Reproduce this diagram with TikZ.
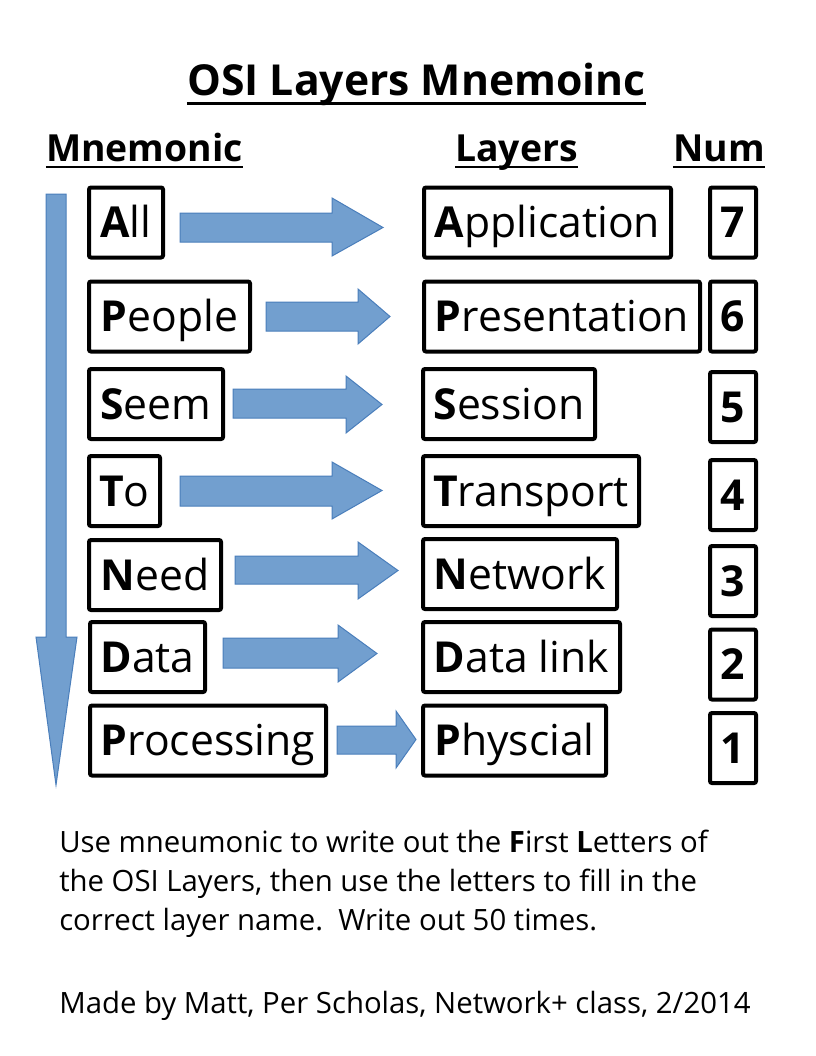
\documentclass[tikz,border=0pt]{standalone}
\usepackage{fontspec}
\setmainfont{Open Sans}
\usepackage{tikz}
\definecolor{cblue}{RGB}{114,159,207}
\definecolor{cedge}{RGB}{74,126,187}

\begin{document}
\begin{tikzpicture}[x=0.75pt,y=-0.75pt,
  word node/.style={rectangle,draw,line width=3pt,rounded corners=1.5pt,inner xsep=2pt,
    minimum height=52.5pt,text height=22.8pt,text depth=0pt,font=\fontsize{32}{38}\selectfont},
  num node/.style={word node,font=\fontsize{32}{38}\selectfont\bfseries,minimum width=34.5pt},
  head node/.style={anchor=base,inner sep=0pt,font=\fontsize{28}{34}\selectfont\bfseries},
  note node/.style={anchor=base west,inner sep=0pt,font=\fontsize{22}{25}\selectfont},
  blue arrow/.style={fill=cblue,draw=cedge,line width=0.75pt},
  uline/.style={line width=2.2pt}]
  \useasboundingbox (0,0) rectangle (816,1056);

  % headings
  \node[head node,font=\fontsize{32}{38}\selectfont\bfseries] (title) at (416.5,95) {OSI Layers Mnemoinc};
  \node[head node] (hm) at (144.5,161) {Mnemonic};
  \node[head node] (hl) at (516.5,161) {Layers};
  \node[head node] (hn) at (719,161) {Num};
  \draw[uline,line width=2.6pt] ([yshift=-6.5pt]title.base west) -- ([yshift=-6.5pt]title.base east);
  \draw[uline] ([yshift=-4.5pt]hm.base west) -- ([yshift=-4.5pt]hm.base east);
  \draw[uline] ([yshift=-4.5pt]hl.base west) -- ([yshift=-4.5pt]hl.base east);
  \draw[uline] ([yshift=-4.5pt]hn.base west) -- ([yshift=-4.5pt]hn.base east);

  % mnemonic words
  \node[word node,minimum width=55.5pt] (m7) at (126,222.5) {\textbf{A}ll};
  \node[word node,minimum width=120.75pt] (m6) at (169.5,316.5) {\textbf{P}eople};
  \node[word node,minimum width=100.5pt] (m5) at (156,404) {\textbf{S}eem};
  \node[word node,minimum width=53.25pt] (m4) at (124.5,491) {\textbf{T}o};
  \node[word node,minimum width=99pt] (m3) at (155,575) {\textbf{N}eed};
  \node[word node,minimum width=86.25pt] (m2) at (147.5,657) {\textbf{D}ata};
  \node[word node,minimum width=177pt] (m1) at (208,740.5) {\textbf{P}rocessing};

  % layers
  \node[word node,minimum width=185.25pt] (l7) at (547.5,222.5) {\textbf{A}pplication};
  \node[word node,minimum width=207pt] (l6) at (562,316.5) {\textbf{P}resentation};
  \node[word node,minimum width=129pt] (l5) at (509,404) {\textbf{S}ession};
  \node[word node,minimum width=162pt] (l4) at (531,491) {\textbf{T}ransport};
  \node[word node,minimum width=145.5pt] (l3) at (520,574) {\textbf{N}etwork};
  \node[word node,minimum width=147.75pt] (l2) at (521.5,657) {\textbf{D}ata link};
  \node[word node,minimum width=137.25pt] (l1) at (514.5,740.5) {\textbf{P}hyscial};

  % numbers
  \node[num node] (n7) at (733,222.5) {7};
  \node[num node] (n6) at (733,316.5) {6};
  \node[num node] (n5) at (733,407) {5};
  \node[num node] (n4) at (733,495) {4};
  \node[num node] (n3) at (733,581) {3};
  \node[num node] (n2) at (733,664.5) {2};
  \node[num node] (n1) at (733,748) {1};

  % block arrows
  \draw[blue arrow] (46,194) -- (66,194) -- (66,637) -- (77,637) -- (56,785) -- (36,637) -- (46,637) -- cycle;
  \draw[blue arrow] (180,213) -- (332,213) -- (332,198) -- (383,227.5) -- (332,256) -- (332,242) -- (180,242) -- cycle;
  \draw[blue arrow] (266,302) -- (358,302) -- (358,289) -- (390,316.5) -- (358,344) -- (358,331) -- (266,331) -- cycle;
  \draw[blue arrow] (233,389) -- (346,389) -- (346,376) -- (382,404.5) -- (346,433) -- (346,418) -- (233,418) -- cycle;
  \draw[blue arrow] (180,476) -- (332,476) -- (332,462) -- (382,490.5) -- (332,519) -- (332,506) -- (180,506) -- cycle;
  \draw[blue arrow] (235,556) -- (358,556) -- (358,542) -- (398,570.5) -- (358,599) -- (358,584) -- (235,584) -- cycle;
  \draw[blue arrow] (223,638) -- (338,638) -- (338,625) -- (377,653.5) -- (338,682) -- (338,668) -- (223,668) -- cycle;
  \draw[blue arrow] (337,726) -- (396,726) -- (396,711) -- (416,739.5) -- (396,768) -- (396,754) -- (337,754) -- cycle;

  % notes
  \node[note node] (t1) at (59,852) {Use mneumonic to write out the \textbf{F}irst \textbf{L}etters of};
  \node[note node] (t2) at (59,891) {the OSI Layers, then use the letters to fill in the};
  \node[note node] (t3) at (59,930) {correct layer name.~~Write out 50 times.};
  \node[note node] (t4) at (59,1013) {Made by Matt, Per Scholas, Network+ class, 2/2014};
\end{tikzpicture}
\end{document}
